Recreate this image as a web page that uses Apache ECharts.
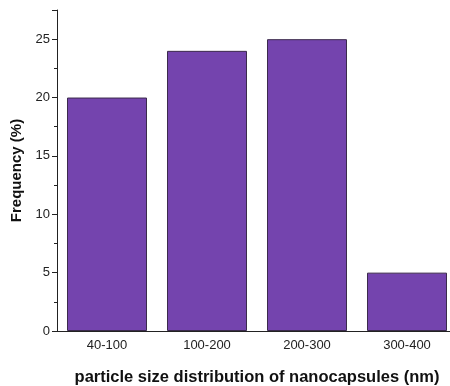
<!DOCTYPE html>
<html><head><meta charset="utf-8">
<script src="https://cdn.jsdelivr.net/npm/echarts@6/dist/echarts.min.js"></script>
<style>html,body{margin:0;padding:0;background:#fff}#c{width:450px;height:386px}</style>
</head><body><div id="c"></div>
<script>
var categories = ['40-100', '100-200', '200-300', '300-400'];
var frequency = [20, 24, 25, 5];
var yTicks = [0, 5, 10, 15, 20, 25];

var chart = echarts.init(document.getElementById('c'), null, {renderer: 'canvas'});
var font = '"Liberation Sans", Arial, sans-serif';
chart.setOption({
  animation: false,
  grid: {left: 57, top: 10, width: 400, height: 321, containLabel: false, outerBoundsMode: 'none'},
  xAxis: [{
    type: 'category', data: categories,
    axisLine: {lineStyle: {color: '#222', width: 1}},
    axisTick: {alignWithLabel: true, length: 5, lineStyle: {color: '#222'}},
    axisLabel: {color: '#222', fontSize: 13, fontFamily: font, margin: 8},
    splitLine: {show: false},
    name: 'particle size distribution of nanocapsules (nm)', nameLocation: 'middle', nameGap: 38,
    nameTextStyle: {fontSize: 16.5, fontWeight: 'bold', fontFamily: font, color: '#111'}
  }, {
    type: 'category', data: categories, position: 'bottom',
    axisLine: {show: false},
    axisTick: {length: 3, lineStyle: {color: '#222'}},
    axisLabel: {show: false}, splitLine: {show: false}
  }],
  yAxis: {
    type: 'value', min: 0, max: 27.5, interval: 5,
    axisLine: {show: true, lineStyle: {color: '#222', width: 1}},
    axisTick: {show: true, length: 5, lineStyle: {color: '#222'}},
    minorTick: {show: true, splitNumber: 2, length: 3, lineStyle: {color: '#222'}},
    axisLabel: {color: '#222', fontSize: 13, fontFamily: font, margin: 7,
      formatter: function (v) { return yTicks.indexOf(v) >= 0 ? String(v) : ''; }},
    splitLine: {show: false},
    name: 'Frequency (%)', nameLocation: 'middle', nameGap: 33,
    nameTextStyle: {fontSize: 15, fontWeight: 'bold', fontFamily: font, color: '#111'}
  },
  series: [{
    type: 'bar', data: frequency, barWidth: '80%', xAxisIndex: 0,
    itemStyle: {color: '#7444ae', borderColor: '#3b2a4c', borderWidth: 1}
  }]
});
</script></body></html>
